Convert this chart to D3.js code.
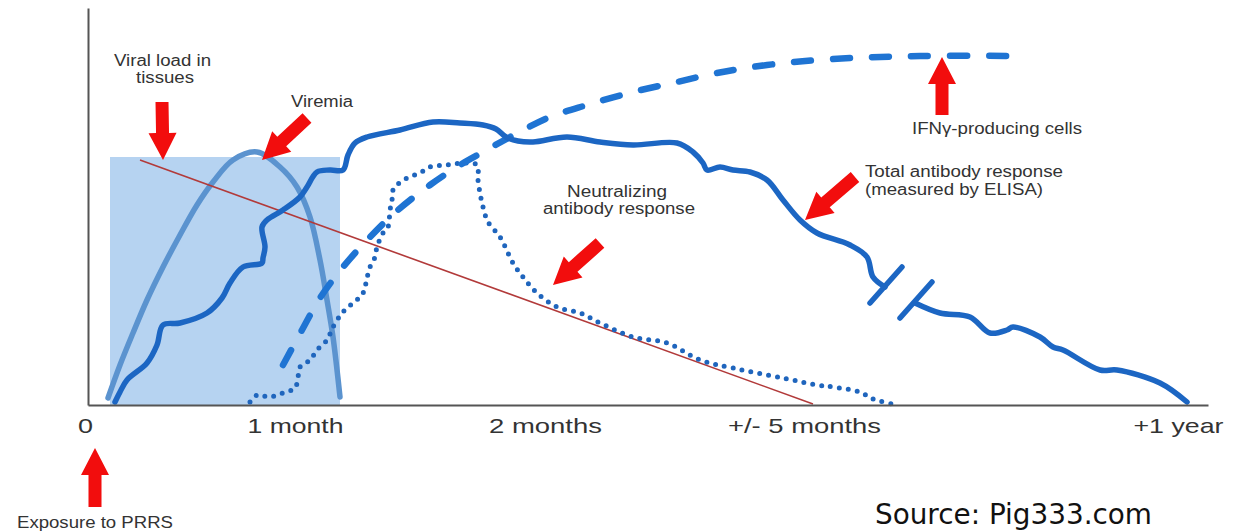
<!DOCTYPE html>
<html><head><meta charset="utf-8">
<script src="https://cdn.jsdelivr.net/npm/d3@7"></script>
<style>body{margin:0;background:#fff}svg{display:block}</style>
</head><body>
<svg id="c" width="1237" height="532"></svg>
<script>
// ---- data (schematic time index 0..1120, response level 0..397) ----
const tickValues = [-3, 207, 457, 716, 1090];
const tickLabels = ["0", "1 month", "2 months", "+/- 5 months", "+1 year"];

const tissueBox = {x0: 22, x1: 252, y0: 0, y1: 248};
const tissueLine = [[52, 245], [725, 1]];

const viremia = [[20,7],[32,40],[45,72],[59,105],[75,138],[92,170],[109,200],[125,223],[145,245],[169,253],[192,238],[209,218],[222,188],[232,145],[239,105],[245,68],[252,8]];

const totalAbA = [[27,3],[32,13],[39,25],[59,42],[69,60],[75,80],[92,82],[119,92],[134,107],[142,122],[155,138],[174,142],[175,147],[177,158],[174,178],[179,185],[195,195],[212,208],[219,218],[229,233],[242,235],[255,235],[260,250],[267,262],[279,268],[312,275],[345,283],[372,282],[395,280],[408,276],[418,268],[430,264],[445,263],[479,268],[512,263],[545,260],[589,262],[605,253],[615,242],[619,235],[632,238],[645,235],[662,233],[679,225],[695,205],[712,185],[729,172],[762,160],[779,148],[785,128],[797,118]];
const totalAbB = [[827,102],[852,92],[882,88],[902,72],[919,75],[925,78],[952,68],[965,58],[975,55],[1012,35],[1029,35],[1072,22],[1099,3]];
const breakMarks = [[[782,102],[814,138]], [[812,87],[844,123]]];

const ifng = [[195,40],[214,75],[232,107],[255,138],[282,168],[310,195],[342,220],[372,240],[395,253],[422,268],[462,288],[499,300],[545,313],[589,323],[629,332],[679,340],[745,346],[832,349],[932,349]];

const neutral = [[162,3],[169,10],[182,8],[195,12],[207,17],[210,28],[212,38],[222,45],[229,55],[239,65],[245,78],[255,93],[265,102],[274,110],[277,118],[279,127],[282,138],[287,148],[289,158],[295,172],[300,178],[302,195],[304,205],[305,215],[309,220],[319,227],[332,232],[342,238],[359,240],[375,242],[389,240],[390,225],[392,212],[395,198],[400,183],[412,168],[425,142],[435,128],[449,112],[469,98],[492,92],[512,82],[545,68],[579,62],[612,45],[645,37],[695,27],[729,20],[745,18],[772,13],[785,6],[809,0]];

// arrows: [tail, tip]
const arrows = [
  [[74,303],[75,245]],
  [[219,287],[174,245]],
  [[854,290],[854,348]],
  [[767,228],[717,185]],
  [[512,162],[465,120]],
  [[7,-102],[7,-43]]
];

const labels = [
  {t:"Viral load in", x:74.5, y:339, a:"middle", w:97},
  {t:"tissues", x:77, y:322, a:"middle", w:58},
  {t:"Viremia", x:234, y:298, a:"middle", w:62},
  {t:"Neutralizing", x:529, y:208, a:"middle", w:100},
  {t:"antibody response", x:531, y:191, a:"middle", w:152},
  {t:"IFNγ-producing cells", x:909, y:271, a:"middle", w:170},
  {t:"Total antibody response", x:777, y:228, a:"start", w:198},
  {t:"(measured by ELISA)", x:777, y:210, a:"start", w:178},
  {t:"Exposure to PRRS", x:7, y:-123, a:"middle", w:156}
];

// ---- drawing ----
const svg = d3.select("#c");
const x = d3.scaleLinear().domain([0, 1120]).range([88, 1208]);
const y = d3.scaleLinear().domain([0, 397]).range([405, 8]);
const line = d3.line().x(d => x(d[0])).y(d => y(d[1]));
const smooth = d3.line().x(d => x(d[0])).y(d => y(d[1])).curve(d3.curveCatmullRom.alpha(0.5));

const mainBlue = "#1c66c3";

svg.append("rect")
  .attr("x", x(tissueBox.x0)).attr("y", y(tissueBox.y1))
  .attr("width", x(tissueBox.x1) - x(tissueBox.x0))
  .attr("height", y(tissueBox.y0) - y(tissueBox.y1))
  .attr("fill", "#b6d3f1");

svg.append("path").attr("d", smooth(viremia)).attr("fill","none")
  .attr("stroke","#5b93cf").attr("stroke-width",5.5).attr("stroke-linecap","round");

svg.append("path").attr("d", line(tissueLine)).attr("fill","none")
  .attr("stroke","#b23a3a").attr("stroke-width",1.6);

svg.append("path").attr("d", smooth(neutral)).attr("fill","none")
  .attr("stroke","#1f65bd").attr("stroke-width",5).attr("stroke-linecap","round")
  .attr("stroke-dasharray","0 9");

svg.append("path").attr("d", smooth(ifng)).attr("fill","none")
  .attr("stroke","#1f74d3").attr("stroke-width",6.5).attr("stroke-linecap","round")
  .attr("stroke-dasharray","17 22");

[totalAbA, totalAbB].forEach(seg => {
  svg.append("path").attr("d", smooth(seg)).attr("fill","none")
    .attr("stroke",mainBlue).attr("stroke-width",5.5)
    .attr("stroke-linecap","round").attr("stroke-linejoin","round");
});
breakMarks.forEach(seg => {
  svg.append("path").attr("d", line(seg)).attr("fill","none")
    .attr("stroke",mainBlue).attr("stroke-width",5.5).attr("stroke-linecap","round");
});

// axes
const xAxis = d3.axisBottom(x).tickValues(tickValues)
  .tickFormat((d,i) => tickLabels[i]).tickSize(0).tickSizeOuter(0);
const gx = svg.append("g").attr("transform", `translate(0,${y(0)})`).call(xAxis);
gx.select(".domain").attr("stroke","#555").attr("stroke-width",2);
gx.selectAll("text").attr("font-family","'Liberation Sans', Arial, sans-serif")
  .attr("font-size",21).attr("fill","#333").attr("dy",0).attr("y",28)
  .attr("textLength",(d,i)=>[15,96,113,153,90][i]).attr("lengthAdjust","spacingAndGlyphs");

const yAxis = d3.axisLeft(y).tickValues([]).tickSizeOuter(0);
const gy = svg.append("g").attr("transform", `translate(${x(0)},0)`).call(yAxis);
gy.select(".domain").attr("stroke","#555").attr("stroke-width",2);

// arrows
function arrowPath(tail, tip) {
  const p0 = [x(tail[0]), y(tail[1])], p1 = [x(tip[0]), y(tip[1])];
  const dx = p1[0]-p0[0], dy = p1[1]-p0[1];
  const L = Math.hypot(dx, dy), ux = dx/L, uy = dy/L, nx = -uy, ny = ux;
  const sw = 6.5, hw = 14, hl = 27;
  const bx = p1[0]-ux*hl, by = p1[1]-uy*hl;
  const pts = [
    [p0[0]+nx*sw, p0[1]+ny*sw], [bx+nx*sw, by+ny*sw], [bx+nx*hw, by+ny*hw],
    p1, [bx-nx*hw, by-ny*hw], [bx-nx*sw, by-ny*sw], [p0[0]-nx*sw, p0[1]-ny*sw]
  ];
  return "M" + pts.map(p => p.join(",")).join("L") + "Z";
}
svg.selectAll("path.arrow").data(arrows).join("path").attr("class","arrow")
  .attr("d", d => arrowPath(d[0], d[1])).attr("fill","#f20d0d");

// labels
svg.selectAll("text.lbl").data(labels).join("text").attr("class","lbl")
  .attr("x", d => x(d.x)).attr("y", d => y(d.y))
  .attr("text-anchor", d => d.a)
  .attr("font-family","'Liberation Sans', Arial, sans-serif").attr("font-size",16)
  .attr("fill","#333").attr("textLength", d => d.w).attr("lengthAdjust","spacingAndGlyphs")
  .text(d => d.t);

svg.append("text").attr("x", 875).attr("y", 524)
  .attr("font-family","'DejaVu Sans', sans-serif").attr("font-size",28)
  .attr("fill","#111").attr("textLength",277).attr("lengthAdjust","spacingAndGlyphs")
  .text("Source: Pig333.com");
</script>
</body></html>
